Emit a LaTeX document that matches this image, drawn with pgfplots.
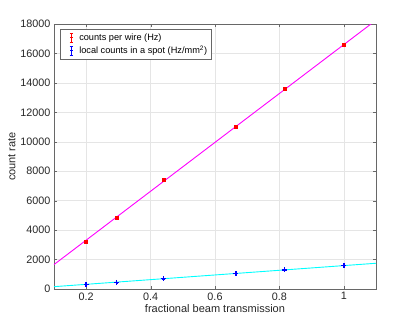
\documentclass[border=0pt]{standalone}
\usepackage{pgfplots}
\pgfplotsset{compat=1.18}
\usepackage{fontspec}
\setmainfont{Liberation Sans}
\definecolor{axgray}{RGB}{38,38,38}
\definecolor{fitmag}{RGB}{255,0,255}
\definecolor{fitcyan}{RGB}{0,255,255}

\begin{document}
\begin{tikzpicture}
\begin{axis}[
    at={(0pt,0pt)}, anchor=south west,
    scale only axis,
    width=322pt, height=265pt,
    xmin=0.1, xmax=1.1,
    ymin=0, ymax=18000,
    xtick={0.2,0.4,0.6,0.8,1},
    ytick={0,2000,...,18000},
    /pgf/number format/1000 sep={},
    /pgf/number format/assume math mode=true,
    scaled y ticks=false,
    tick label style={font=\fontsize{10.8}{12}\selectfont, text=axgray},
    label style={font=\fontsize{11}{13}\selectfont, text=axgray},
    xlabel={fractional beam transmission},
    ylabel={count rate},
    xlabel style={yshift=3pt},
    ylabel style={yshift=-2pt},
    axis line style={draw=axgray!70},
    tick style={draw=axgray!70},
    tick align=inside,
    major tick length=3pt,
    grid=major,
    grid style={draw=gray!20, line width=0.4pt},
    legend style={at={(0.02,0.98)}, anchor=north west,
        font=\fontsize{9.2}{11}\selectfont, draw=axgray!70,
        row sep=0pt, inner sep=2pt},
    legend cell align=left,
]
% linear fits
\addplot[fitmag, line width=0.9pt, forget plot] coordinates {(0.1,1660) (1.1,18260)};
\addplot[fitcyan, line width=0.9pt, forget plot] coordinates {(0.1,159) (1.1,1749)};

% counts per wire
\addplot[red, only marks, mark=square*, mark size=1.5pt, mark options={red},
    error bars/.cd, y dir=both, y explicit, error bar style={red},
    error mark options={rotate=90, mark size=1.2pt, red},
    /pgfplots/legend image code/.code={
        \path (0cm,0cm) (0.5cm,0cm);
        \draw[red, line width=0.8pt] (0.3cm,-0.16cm)--(0.3cm,0.16cm);
        \draw[red, line width=0.8pt] (0.24cm,-0.16cm)--(0.36cm,-0.16cm);
        \draw[red, line width=0.8pt] (0.24cm,0.16cm)--(0.36cm,0.16cm);
        \draw[red, line width=0.8pt] (0.26cm,0cm)--(0.34cm,0cm);
    }]
coordinates {
    (0.2,3200) +- (0,60)
    (0.295,4850) +- (0,60)
    (0.44,7400) +- (0,60)
    (0.665,11000) +- (0,60)
    (0.815,13600) +- (0,60)
    (1.0,16580) +- (0,60)
};
\addlegendentry{counts per wire (Hz)}

% local counts in a spot
\addplot[blue, only marks, mark=+, mark size=2.5pt, mark options={blue, line width=1.4pt},
    error bars/.cd, y dir=both, y explicit, error bar style={blue, line width=0.8pt},
    error mark options={rotate=90, mark size=1.2pt, blue},
    /pgfplots/legend image code/.code={
        \path (0cm,0cm) (0.5cm,0cm);
        \draw[blue, line width=0.8pt] (0.3cm,-0.16cm)--(0.3cm,0.16cm);
        \draw[blue, line width=0.8pt] (0.24cm,-0.16cm)--(0.36cm,-0.16cm);
        \draw[blue, line width=0.8pt] (0.24cm,0.16cm)--(0.36cm,0.16cm);
        \draw[blue, line width=0.8pt] (0.26cm,0cm)--(0.34cm,0cm);
    }]
coordinates {
    (0.2,300) +- (0,30)
    (0.295,450) +- (0,30)
    (0.44,700) +- (0,30)
    (0.665,1050) +- (0,30)
    (0.815,1300) +- (0,30)
    (1.0,1580) +- (0,30)
};
\addlegendentry{local counts in a spot (Hz/mm\textsuperscript{2})}
\end{axis}
\path[use as bounding box] (-54pt,-36pt) rectangle (361pt,289pt);
\end{tikzpicture}
\end{document}
